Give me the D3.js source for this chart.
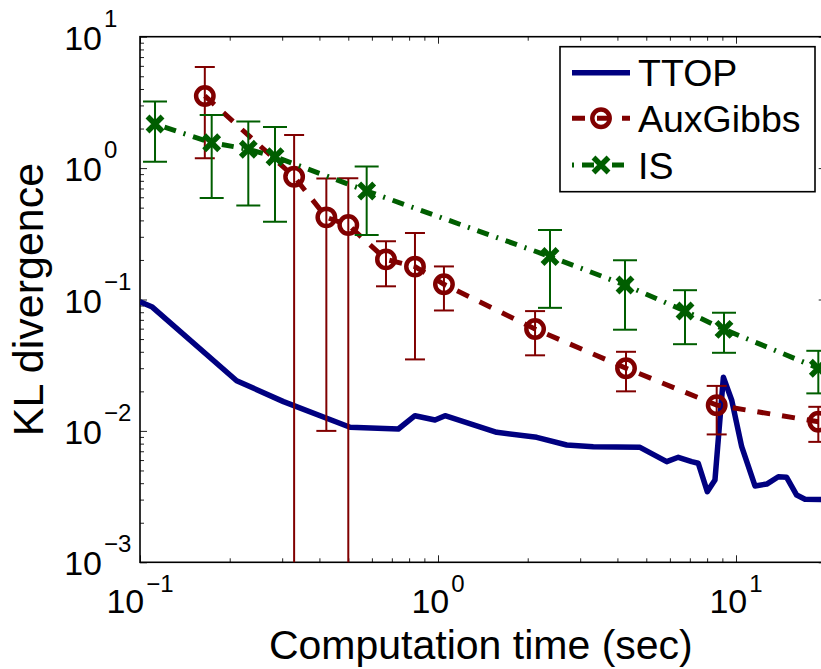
<!DOCTYPE html>
<html>
<head>
<meta charset="utf-8">
<script src="https://cdn.jsdelivr.net/npm/d3@7"></script>
<style>
  html, body { margin: 0; padding: 0; background: #fff; }
  svg { display: block; font-family: "Liberation Sans", Arial, Helvetica, sans-serif; }
</style>
</head>
<body>
<svg id="chart" width="821" height="669"></svg>
<script>
// TTOP: continuous KL-divergence trace over computation time
const ttopTime = [0.1, 0.1095, 0.211, 0.303, 0.507, 0.736, 0.837, 0.977, 1.056, 1.574, 2.145, 2.704, 3.32, 4.764,
                  5.854, 6.403, 7.10, 7.47, 8.01, 8.50, 9.07, 9.67, 10.45, 11.58, 12.68, 13.87, 14.79, 15.98, 17.04, 20.0];
const ttopKL   = [0.0962, 0.0882, 0.0241, 0.0167, 0.01065, 0.01034, 0.01305, 0.0121, 0.01305, 0.00976, 0.00894, 0.00781, 0.00758, 0.0075,
                  0.00583, 0.0063, 0.00583, 0.00567, 0.00345, 0.00423, 0.0256, 0.0172, 0.00758, 0.00381, 0.00394, 0.00448, 0.00443, 0.00325, 0.00302, 0.00300];

// AuxGibbs: mean KL divergence with symmetric error
const auxTime = [0.165, 0.329, 0.422, 0.500, 0.669, 0.837, 1.047, 2.117, 4.275, 8.614, 18.89];
const auxKL   = [3.54, 0.86, 0.422, 0.369, 0.202, 0.178, 0.1305, 0.0596, 0.0300, 0.0157, 0.01175];
const auxErr  = [2.35, 0.93, 0.412, 0.468, 0.076, 0.143, 0.048, 0.022, 0.0100, 0.0063, 0.0035];

// IS: mean KL divergence with symmetric error
const isTime = [0.1123, 0.174, 0.2309, 0.2838, 0.5763, 2.376, 4.242, 6.744, 9.114, 18.89];
const isKL   = [2.166, 1.561, 1.390, 1.221, 0.6695, 0.2124, 0.1289, 0.0817, 0.0593, 0.0300];
const isErr  = [1.05, 0.97, 0.87, 0.83, 0.36, 0.126, 0.070, 0.036, 0.020, 0.0107];

const seriesNames = ["TTOP", "AuxGibbs", "IS"];
const xTickExponents = [-1, 0, 1];
const yTickExponents = [-3, -2, -1, 0, 1];
const xLabel = "Computation time (sec)";
const yLabel = "KL divergence";

const colors = { ttop: "#000080", aux: "#800000", is: "#005e00" };

const svg = d3.select("#chart");
const plotLeft = 140, plotTop = 36.7, plotBottom = 562.3;
const xDomain = [0.1, 20];
const plotRight = plotLeft + 298 * Math.log10(xDomain[1] / xDomain[0]);

const x = d3.scaleLog().domain(xDomain).range([plotLeft, plotRight]);
const y = d3.scaleLog().domain([1e-3, 10]).range([plotBottom, plotTop]);

svg.append("defs").append("clipPath").attr("id", "plotClip")
  .append("rect").attr("x", plotLeft).attr("y", plotTop)
  .attr("width", plotRight - plotLeft).attr("height", plotBottom - plotTop);

// ---- axes: inward ticks on all four sides ----
const isMajor = v => Math.abs(Math.log10(v) - Math.round(Math.log10(v))) < 1e-9;
const xMajor = x.ticks().filter(isMajor), xMinor = x.ticks().filter(v => !isMajor(v));
const yMajor = y.ticks().filter(isMajor), yMinor = y.ticks().filter(v => !isMajor(v));

function addAxis(gen, values, size, transform) {
  const g = svg.append("g").attr("transform", transform)
    .call(gen.tickValues(values).tickSizeInner(size).tickSizeOuter(0).tickFormat(""));
  g.select(".domain").remove();
  g.selectAll(".tick line").attr("stroke", "#222").attr("stroke-width", 1);
}
addAxis(d3.axisBottom(x), xMajor, -7, `translate(0,${plotBottom})`);
addAxis(d3.axisBottom(x), xMinor, -4, `translate(0,${plotBottom})`);
addAxis(d3.axisTop(x), xMajor, -7, `translate(0,${plotTop})`);
addAxis(d3.axisTop(x), xMinor, -4, `translate(0,${plotTop})`);
addAxis(d3.axisLeft(y), yMajor, -7, `translate(${plotLeft},0)`);
addAxis(d3.axisLeft(y), yMinor, -4, `translate(${plotLeft},0)`);
addAxis(d3.axisRight(y), yMajor, -7, `translate(${plotRight},0)`);
addAxis(d3.axisRight(y), yMinor, -4, `translate(${plotRight},0)`);

svg.append("rect").attr("x", plotLeft).attr("y", plotTop)
  .attr("width", plotRight - plotLeft).attr("height", plotBottom - plotTop)
  .attr("fill", "none").attr("stroke", "#000").attr("stroke-width", 1.6);

// tick labels in 10^n form
xTickExponents.forEach(e => {
  const t = svg.append("text").attr("x", x(Math.pow(10, e))).attr("y", 613)
    .attr("text-anchor", "middle").attr("font-size", 34).attr("fill", "#000");
  t.append("tspan").text("10");
  t.append("tspan").attr("font-size", 24).attr("dy", -21).attr("dx", 2)
    .text(e < 0 ? "\u2212" + Math.abs(e) : String(e));
});
yTickExponents.forEach(e => {
  const yy = y(Math.pow(10, e));
  svg.append("text").attr("x", 102).attr("y", yy + 13).attr("text-anchor", "end")
    .attr("font-size", 34).attr("fill", "#000").text("10");
  svg.append("text").attr("x", 104).attr("y", yy - 10).attr("text-anchor", "start")
    .attr("font-size", 24).attr("fill", "#000")
    .text(e < 0 ? "\u2212" + Math.abs(e) : String(e));
});

// axis titles
svg.append("text").attr("x", (plotLeft + plotRight) / 2 - 2).attr("y", 659)
  .attr("text-anchor", "middle").attr("font-size", 41).attr("fill", "#000").text(xLabel);
svg.append("text").attr("transform", `translate(43,${(plotTop + plotBottom) / 2}) rotate(-90)`)
  .attr("text-anchor", "middle").attr("font-size", 43).attr("fill", "#000").text(yLabel);

// ---- data ----
const plot = svg.append("g").attr("clip-path", "url(#plotClip)");
const line = d3.line().x(d => x(d[0])).y(d => y(d[1]));

// TTOP
plot.append("path").datum(d3.zip(ttopTime, ttopKL))
  .attr("d", line).attr("fill", "none").attr("stroke", colors.ttop)
  .attr("stroke-width", 5.5).attr("stroke-linejoin", "round");

function errorSeries(times, vals, errs, color, capHalf, dash, marker) {
  const pts = times.map((t, i) => ({ t, v: vals[i], e: errs[i] }));
  const g = plot.append("g");
  // vertical error bars; a lower bound at or below zero runs off the bottom of the log axis
  pts.forEach(p => {
    const hi = y(p.v + p.e);
    const lo = p.v - p.e > 0 ? y(p.v - p.e) : plotBottom + 20;
    const cx = x(p.t);
    g.append("line").attr("x1", cx).attr("x2", cx).attr("y1", hi).attr("y2", lo)
      .attr("stroke", color).attr("stroke-width", 2);
    g.append("line").attr("x1", cx - capHalf).attr("x2", cx + capHalf).attr("y1", hi).attr("y2", hi)
      .attr("stroke", color).attr("stroke-width", 2);
    if (p.v - p.e > 0) {
      g.append("line").attr("x1", cx - capHalf).attr("x2", cx + capHalf).attr("y1", lo).attr("y2", lo)
        .attr("stroke", color).attr("stroke-width", 2);
    }
  });
  g.append("path").datum(pts.map(p => [p.t, p.v])).attr("d", line)
    .attr("fill", "none").attr("stroke", color).attr("stroke-width", 5)
    .attr("stroke-dasharray", dash);
  pts.forEach(p => marker(g, x(p.t), y(p.v), color));
}

function circleMarker(g, cx, cy, color) {
  g.append("circle").attr("cx", cx).attr("cy", cy).attr("r", 8.7)
    .attr("fill", "none").attr("stroke", color).attr("stroke-width", 4.5);
}
function crossMarker(g, cx, cy, color) {
  const s = 7.5;
  g.append("path").attr("d", `M${cx - s},${cy - s}L${cx + s},${cy + s}M${cx - s},${cy + s}L${cx + s},${cy - s}`)
    .attr("fill", "none").attr("stroke", color).attr("stroke-width", 5.5);
}

const auxDash = "13,12";
const isDash = "2,8,12,8";
errorSeries(auxTime, auxKL, auxErr, colors.aux, 10, auxDash, circleMarker);
errorSeries(isTime, isKL, isErr, colors.is, 12, isDash, crossMarker);

// ---- legend ----
const lg = svg.append("g");
lg.append("rect").attr("x", 560).attr("y", 46.7).attr("width", 255).attr("height", 145)
  .attr("fill", "#fff").attr("stroke", "#000").attr("stroke-width", 1.6);
const rowsY = [72.7, 118.3, 165];
const legendStyles = [
  { color: colors.ttop, dash: null, width: 5.5, marker: null },
  { color: colors.aux, dash: auxDash, width: 5, marker: circleMarker },
  { color: colors.is, dash: isDash, width: 5, marker: crossMarker }
];
seriesNames.forEach((name, i) => {
  const st = legendStyles[i], ry = rowsY[i];
  const l = lg.append("line").attr("x1", 572).attr("x2", 630).attr("y1", ry).attr("y2", ry)
    .attr("stroke", st.color).attr("stroke-width", st.width);
  if (st.dash) l.attr("stroke-dasharray", st.dash);
  if (st.marker) st.marker(lg, 601, ry, st.color);
  lg.append("text").attr("x", 638).attr("y", ry + 13.5).attr("font-size", 37.5)
    .attr("fill", "#000").text(name);
});
</script>
</body>
</html>
